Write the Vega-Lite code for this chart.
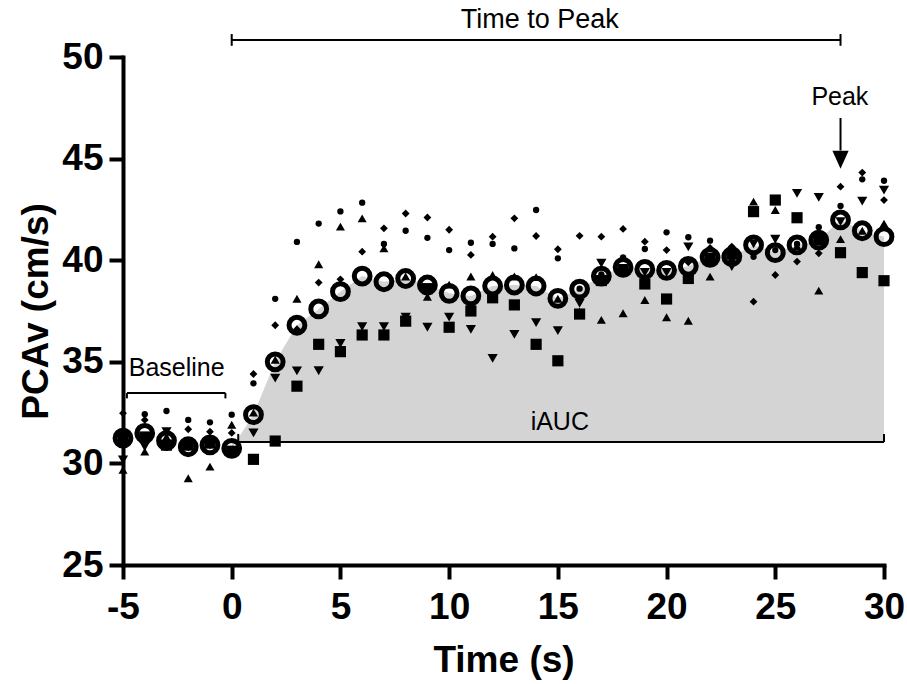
{
 "$schema": "https://vega.github.io/schema/vega-lite/v6.json",
 "width": 761, "height": 508,
 "autosize": {"type": "none"},
 "padding": {"left": 123, "top": 57, "right": 23, "bottom": 119},
 "background": "white",
 "config": {"view": {"stroke": null}, "font": "Liberation Sans"},
 "datasets": {
  "pts": [
   {"t":-5,"s":"A","v":31.5},{"t":-5,"s":"B","v":32.47},{"t":-5,"s":"C","v":29.68},{"t":-5,"s":"D","v":30.17},{"t":-5,"s":"E","v":31.2},{"t":-5,"s":"M","v":31.24},
   {"t":-4,"s":"A","v":32.42},{"t":-4,"s":"B","v":32.14},{"t":-4,"s":"C","v":30.58},{"t":-4,"s":"D","v":30.82},{"t":-4,"s":"E","v":31.3},{"t":-4,"s":"M","v":31.48},
   {"t":-3,"s":"A","v":32.58},{"t":-3,"s":"B","v":31.0},{"t":-3,"s":"C","v":31.31},{"t":-3,"s":"D","v":31.56},{"t":-3,"s":"E","v":30.9},{"t":-3,"s":"M","v":31.12},
   {"t":-2,"s":"A","v":32.14},{"t":-2,"s":"B","v":31.68},{"t":-2,"s":"C","v":29.27},{"t":-2,"s":"D","v":30.8},{"t":-2,"s":"E","v":30.9},{"t":-2,"s":"M","v":30.82},
   {"t":-1,"s":"A","v":32.02},{"t":-1,"s":"B","v":31.56},{"t":-1,"s":"C","v":29.84},{"t":-1,"s":"D","v":30.9},{"t":-1,"s":"E","v":31.0},{"t":-1,"s":"M","v":30.91},
   {"t":0,"s":"A","v":32.4},{"t":0,"s":"B","v":31.5},{"t":0,"s":"C","v":31.9},{"t":0,"s":"D","v":30.5},{"t":0,"s":"E","v":30.6},{"t":0,"s":"M","v":30.74},
   {"t":1,"s":"A","v":33.94},{"t":1,"s":"B","v":34.4},{"t":1,"s":"C","v":32.5},{"t":1,"s":"D","v":31.5},{"t":1,"s":"E","v":30.2},{"t":1,"s":"M","v":32.4},
   {"t":2,"s":"A","v":38.1},{"t":2,"s":"B","v":36.8},{"t":2,"s":"C","v":35.1},{"t":2,"s":"D","v":34.2},{"t":2,"s":"E","v":31.1},{"t":2,"s":"M","v":35.0},
   {"t":3,"s":"A","v":40.9},{"t":3,"s":"B","v":36.6},{"t":3,"s":"C","v":38.1},{"t":3,"s":"D","v":34.55},{"t":3,"s":"E","v":33.8},{"t":3,"s":"M","v":36.8},
   {"t":4,"s":"A","v":41.8},{"t":4,"s":"B","v":38.9},{"t":4,"s":"C","v":39.8},{"t":4,"s":"D","v":34.56},{"t":4,"s":"E","v":35.86},{"t":4,"s":"M","v":37.6},
   {"t":5,"s":"A","v":42.4},{"t":5,"s":"B","v":39.06},{"t":5,"s":"C","v":41.65},{"t":5,"s":"D","v":35.9},{"t":5,"s":"E","v":35.5},{"t":5,"s":"M","v":38.45},
   {"t":6,"s":"A","v":42.83},{"t":6,"s":"B","v":40.42},{"t":6,"s":"C","v":42.06},{"t":6,"s":"D","v":36.73},{"t":6,"s":"E","v":36.32},{"t":6,"s":"M","v":39.22},
   {"t":7,"s":"A","v":40.8},{"t":7,"s":"B","v":41.57},{"t":7,"s":"C","v":40.58},{"t":7,"s":"D","v":36.73},{"t":7,"s":"E","v":36.32},{"t":7,"s":"M","v":38.94},
   {"t":8,"s":"A","v":41.45},{"t":8,"s":"B","v":42.3},{"t":8,"s":"C","v":39.2},{"t":8,"s":"D","v":37.2},{"t":8,"s":"E","v":37.0},{"t":8,"s":"M","v":39.1},
   {"t":9,"s":"A","v":41.1},{"t":9,"s":"B","v":42.1},{"t":9,"s":"C","v":38.2},{"t":9,"s":"D","v":36.7},{"t":9,"s":"E","v":38.6},{"t":9,"s":"M","v":38.78},
   {"t":10,"s":"A","v":40.5},{"t":10,"s":"B","v":41.5},{"t":10,"s":"C","v":38.8},{"t":10,"s":"D","v":37.2},{"t":10,"s":"E","v":36.7},{"t":10,"s":"M","v":38.37},
   {"t":11,"s":"A","v":40.86},{"t":11,"s":"B","v":40.26},{"t":11,"s":"C","v":39.2},{"t":11,"s":"D","v":36.6},{"t":11,"s":"E","v":37.5},{"t":11,"s":"M","v":38.24},
   {"t":12,"s":"A","v":40.8},{"t":12,"s":"B","v":41.16},{"t":12,"s":"C","v":39.27},{"t":12,"s":"D","v":35.17},{"t":12,"s":"E","v":38.15},{"t":12,"s":"M","v":38.73},
   {"t":13,"s":"A","v":40.58},{"t":13,"s":"B","v":42.06},{"t":13,"s":"C","v":39.2},{"t":13,"s":"D","v":36.35},{"t":13,"s":"E","v":37.8},{"t":13,"s":"M","v":38.78},
   {"t":14,"s":"A","v":42.47},{"t":14,"s":"B","v":41.19},{"t":14,"s":"C","v":39.17},{"t":14,"s":"D","v":36.93},{"t":14,"s":"E","v":35.86},{"t":14,"s":"M","v":38.73},
   {"t":15,"s":"A","v":40.09},{"t":15,"s":"B","v":40.54},{"t":15,"s":"C","v":38.1},{"t":15,"s":"D","v":36.53},{"t":15,"s":"E","v":35.05},{"t":15,"s":"M","v":38.12},
   {"t":16,"s":"A","v":38.6},{"t":16,"s":"B","v":41.2},{"t":16,"s":"C","v":37.47},{"t":16,"s":"D","v":37.88},{"t":16,"s":"E","v":37.35},{"t":16,"s":"M","v":38.58},
   {"t":17,"s":"A","v":39.3},{"t":17,"s":"B","v":41.16},{"t":17,"s":"C","v":37.06},{"t":17,"s":"D","v":39.85},{"t":17,"s":"E","v":39.0},{"t":17,"s":"M","v":39.22},
   {"t":18,"s":"A","v":40.14},{"t":18,"s":"B","v":41.54},{"t":18,"s":"C","v":37.39},{"t":18,"s":"D","v":39.6},{"t":18,"s":"E","v":39.5},{"t":18,"s":"M","v":39.65},
   {"t":19,"s":"A","v":40.55},{"t":19,"s":"B","v":40.91},{"t":19,"s":"C","v":38.04},{"t":19,"s":"D","v":39.4},{"t":19,"s":"E","v":38.83},{"t":19,"s":"M","v":39.55},
   {"t":20,"s":"A","v":41.37},{"t":20,"s":"B","v":40.5},{"t":20,"s":"C","v":37.19},{"t":20,"s":"D","v":39.4},{"t":20,"s":"E","v":38.09},{"t":20,"s":"M","v":39.5},
   {"t":21,"s":"A","v":41.13},{"t":21,"s":"B","v":39.9},{"t":21,"s":"C","v":37.02},{"t":21,"s":"D","v":40.66},{"t":21,"s":"E","v":39.1},{"t":21,"s":"M","v":39.7},
   {"t":22,"s":"A","v":40.96},{"t":22,"s":"B","v":40.6},{"t":22,"s":"C","v":39.19},{"t":22,"s":"D","v":40.0},{"t":22,"s":"E","v":40.1},{"t":22,"s":"M","v":40.14},
   {"t":23,"s":"A","v":40.2},{"t":23,"s":"B","v":40.67},{"t":23,"s":"C","v":40.1},{"t":23,"s":"D","v":39.68},{"t":23,"s":"E","v":40.3},{"t":23,"s":"M","v":40.17},
   {"t":24,"s":"A","v":40.17},{"t":24,"s":"B","v":37.96},{"t":24,"s":"C","v":42.88},{"t":24,"s":"D","v":40.8},{"t":24,"s":"E","v":42.39},{"t":24,"s":"M","v":40.75},
   {"t":25,"s":"A","v":40.5},{"t":25,"s":"B","v":39.27},{"t":25,"s":"C","v":42.47},{"t":25,"s":"D","v":41.03},{"t":25,"s":"E","v":42.96},{"t":25,"s":"M","v":40.37},
   {"t":26,"s":"A","v":40.8},{"t":26,"s":"B","v":39.93},{"t":26,"s":"C","v":40.7},{"t":26,"s":"D","v":43.29},{"t":26,"s":"E","v":42.09},{"t":26,"s":"M","v":40.75},
   {"t":27,"s":"A","v":41.62},{"t":27,"s":"B","v":40.34},{"t":27,"s":"C","v":38.5},{"t":27,"s":"D","v":43.09},{"t":27,"s":"E","v":41.0},{"t":27,"s":"M","v":40.99},
   {"t":28,"s":"A","v":42.67},{"t":28,"s":"B","v":43.62},{"t":28,"s":"C","v":41.04},{"t":28,"s":"D","v":41.9},{"t":28,"s":"E","v":40.37},{"t":28,"s":"M","v":41.98},
   {"t":29,"s":"A","v":43.98},{"t":29,"s":"B","v":44.31},{"t":29,"s":"C","v":41.45},{"t":29,"s":"D","v":42.91},{"t":29,"s":"E","v":39.39},{"t":29,"s":"M","v":41.45},
   {"t":30,"s":"A","v":43.91},{"t":30,"s":"B","v":42.96},{"t":30,"s":"C","v":41.8},{"t":30,"s":"D","v":43.45},{"t":30,"s":"E","v":38.99},{"t":30,"s":"M","v":41.16}
  ],
  "rules": [
   {"x":0,"x2":28,"y":50.84,"y2":50.84},
   {"x":0,"x2":0,"y":50.55,"y2":51.13},
   {"x":28,"x2":28,"y":50.55,"y2":51.13},
   {"x":-4.82,"x2":-0.29,"y":33.46,"y2":33.46},
   {"x":-4.82,"x2":-4.82,"y":33.2,"y2":33.46},
   {"x":-0.29,"x2":-0.29,"y":33.2,"y2":33.46},
   {"x":0.3,"x2":30,"y":31.05,"y2":31.05},
   {"x":0.3,"x2":0.3,"y":31.05,"y2":31.45},
   {"x":30,"x2":30,"y":31.05,"y2":31.45},
   {"x":28,"x2":28,"y":45.4,"y2":47.0}
  ],
  "notes": [
   {"x":27.97,"y":48.03,"label":"Peak"},
   {"x":-2.53,"y":34.69,"label":"Baseline"},
   {"x":15.09,"y":32.04,"label":"iAUC"}
  ],
  "title_note": [
   {"x":14.17,"y":51.82,"label":"Time to Peak"}
  ],
  "arrow": [
   {"x":28,"y":44.94}
  ]
 },
 "layer": [
  {
   "data": {"name": "pts"},
   "transform": [{"filter": "datum.s === 'M' && datum.t >= 0"}],
   "mark": {"type": "area", "color": "#d4d4d4", "opacity": 1},
   "encoding": {
    "x": {"field": "t", "type": "quantitative", "scale": {"domain": [-5, 30], "nice": false, "zero": false},
     "axis": {"values": [-5,0,5,10,15,20,25,30], "title": "Time (s)", "grid": false,
      "labelExpr": "datum.value < 0 ? '-' + abs(datum.value) : datum.label",
      "domainColor": "black", "domainWidth": 4, "domainCap": "square", "tickColor": "black", "tickWidth": 4, "tickSize": 14,
      "labelFont": "Liberation Sans", "labelFontWeight": "bold", "labelFontSize": 37, "labelColor": "black", "labelPadding": 10,
      "labelFlush": false, "labelOverlap": false,
      "titleFont": "Liberation Sans", "titleFontWeight": "bold", "titleFontSize": 37, "titleColor": "black", "titlePadding": 17}},
    "y": {"field": "v", "type": "quantitative", "scale": {"domain": [25, 50], "nice": false, "zero": false},
     "axis": {"values": [25,30,35,40,45,50], "title": "PCAv (cm/s)", "grid": false,
      "domainColor": "black", "domainWidth": 4, "domainCap": "square", "tickColor": "black", "tickWidth": 4, "tickSize": 14,
      "labelFont": "Liberation Sans", "labelFontWeight": "bold", "labelFontSize": 37, "labelColor": "black", "labelPadding": 6,
      "labelFlush": false, "labelOverlap": false,
      "titleFont": "Liberation Sans", "titleFontWeight": "bold", "titleFontSize": 37, "titleColor": "black", "titlePadding": 6}},
    "y2": {"datum": 31.05}
   }
  },
  {
   "mark": {"type": "rule", "strokeDash": [12, 8], "strokeWidth": 3.5, "color": "black"},
   "encoding": {"x": {"datum": 0}, "y": {"datum": 25}, "y2": {"datum": 48.9}}
  },
  {
   "data": {"name": "rules"},
   "mark": {"type": "rule", "strokeWidth": 2, "color": "black"},
   "encoding": {
    "x": {"field": "x", "type": "quantitative"},
    "x2": {"field": "x2"},
    "y": {"field": "y", "type": "quantitative"},
    "y2": {"field": "y2"}
   }
  },
  {
   "data": {"name": "arrow"},
   "mark": {"type": "point", "shape": "M-0.9,-1L0.9,-1L0,1Z", "size": 324, "filled": true, "fill": "black", "stroke": null, "opacity": 1},
   "encoding": {"x": {"field": "x", "type": "quantitative"}, "y": {"field": "y", "type": "quantitative"}}
  },
  {
   "data": {"name": "pts"},
   "transform": [{"filter": "datum.s !== 'M'"}],
   "mark": {"type": "point", "filled": true, "color": "black", "opacity": 1},
   "encoding": {
    "x": {"field": "t", "type": "quantitative"},
    "y": {"field": "v", "type": "quantitative"},
    "shape": {"field": "s", "type": "nominal", "scale": {"domain": ["A","B","C","D","E"], "range": ["circle","diamond","triangle-up","triangle-down","square"]}, "legend": null},
    "size": {"field": "s", "type": "nominal", "scale": {"domain": ["A","B","C","D","E"], "range": [40,125,150,150,42]}, "legend": null}
   }
  },
  {
   "data": {"name": "pts"},
   "transform": [{"filter": "datum.s === 'M'"}],
   "mark": {"type": "point", "shape": "circle", "filled": false, "stroke": "black", "strokeWidth": 5, "size": 250, "opacity": 1},
   "encoding": {
    "x": {"field": "t", "type": "quantitative"},
    "y": {"field": "v", "type": "quantitative"}
   }
  },
  {
   "data": {"name": "notes"},
   "mark": {"type": "text", "font": "Liberation Sans", "fontSize": 25, "color": "black", "align": "center", "baseline": "middle"},
   "encoding": {
    "x": {"field": "x", "type": "quantitative"},
    "y": {"field": "y", "type": "quantitative"},
    "text": {"field": "label"}
   }
  },
  {
   "data": {"name": "title_note"},
   "mark": {"type": "text", "font": "Liberation Sans", "fontSize": 27, "color": "black", "align": "center", "baseline": "middle"},
   "encoding": {
    "x": {"field": "x", "type": "quantitative"},
    "y": {"field": "y", "type": "quantitative"},
    "text": {"field": "label"}
   }
  }
 ]
}
